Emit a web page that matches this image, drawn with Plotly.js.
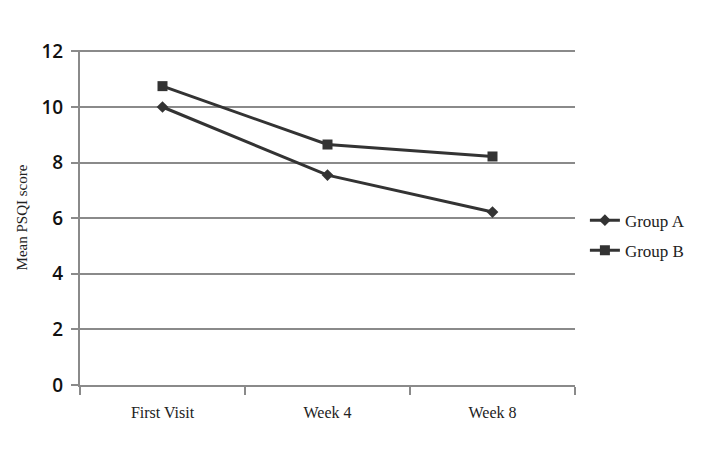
<!DOCTYPE html>
<html>
<head>
<meta charset="utf-8">
<script src="https://cdn.plot.ly/plotly-3.0.1.min.js"></script>
<style>
  body { margin: 0; background: #fff; }
  #chart { width: 705px; height: 450px; }
</style>
</head>
<body>
<div id="chart"></div>
<script>
// visits and mean PSQI scores
var visits = ['First Visit', 'Week 4', 'Week 8'];
var groupA = [10.0, 7.55, 6.22];
var groupB = [10.75, 8.65, 8.22];
var yTicks = [0, 2, 4, 6, 8, 10, 12];

var serif = 'Liberation Serif, DejaVu Serif, serif';
var grey = '#8a8a8a';

var traceA = {
  x: visits,
  y: groupA,
  name: 'Group A',
  legendgroup: 'a',
  type: 'scatter',
  mode: 'lines+markers',
  line: { color: '#333333', width: 3 },
  marker: { symbol: 'diamond', size: 9, color: '#333333' }
};

var traceB = {
  x: visits,
  y: groupB,
  name: 'Group B',
  legendgroup: 'b',
  type: 'scatter',
  mode: 'lines+markers',
  line: { color: '#333333', width: 3 },
  marker: { symbol: 'square', size: 10, color: '#333333' }
};

var layout = {
  width: 705,
  height: 450,
  margin: { l: 80, r: 130, t: 50, b: 65 },
  paper_bgcolor: '#ffffff',
  plot_bgcolor: '#ffffff',
  showlegend: true,
  legend: {
    x: 1.02, xanchor: 'left',
    y: 0.446, yanchor: 'middle',
    font: { family: serif, size: 17, color: '#222' },
    tracegroupgap: 5
  },
  xaxis: {
    type: 'category',
    range: [-0.5, 2.5],
    tickson: 'boundaries',
    ticks: 'outside',
    ticklen: 8,
    tickwidth: 2,
    tickcolor: grey,
    showline: true,
    linecolor: grey,
    linewidth: 2,
    showgrid: false,
    ticklabelstandoff: 12,
    tickfont: { family: serif, size: 16, color: '#222' }
  },
  yaxis: {
    range: [0, 12.05],
    tickvals: yTicks,
    ticks: 'outside',
    ticklen: 7,
    tickwidth: 2,
    tickcolor: grey,
    showline: true,
    linecolor: grey,
    linewidth: 2,
    gridcolor: grey,
    gridwidth: 2,
    zeroline: false,
    ticklabelstandoff: 4,
    tickfont: { family: 'Open Sans, sans-serif', size: 19, color: '#111', weight: 600 },
    title: { text: 'Mean PSQI score', font: { family: serif, size: 15, color: '#222' }, standoff: 10 }
  }
};

Plotly.newPlot('chart', [traceA, traceB], layout, { displayModeBar: false });
</script>
</body>
</html>
